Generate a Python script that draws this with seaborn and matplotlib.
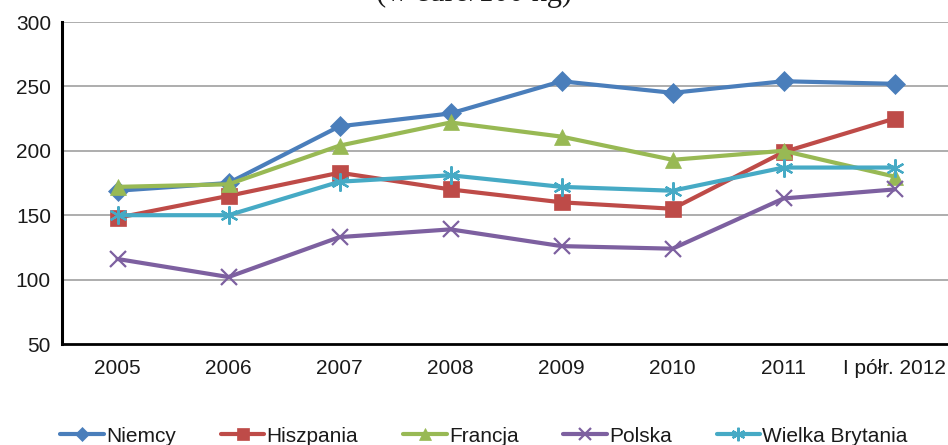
import pandas as pd
import matplotlib
matplotlib.use("Agg")
import matplotlib.pyplot as plt
import seaborn as sns

years = ["2005", "2006", "2007", "2008", "2009", "2010", "2011", "I półr. 2012"]
niemcy = [169, 175, 219, 229, 254, 245, 254, 252]
hiszpania = [148, 165, 183, 170, 160, 155, 199, 225]
francja = [172, 174, 204, 222, 211, 193, 200, 180]
polska = [116, 102, 133, 139, 126, 124, 163, 170]
wielka_brytania = [150, 150, 176, 181, 172, 169, 187, 187]

series = {
    "Niemcy": niemcy,
    "Hiszpania": hiszpania,
    "Francja": francja,
    "Polska": polska,
    "Wielka Brytania": wielka_brytania,
}
colors = ["#4A7EBB", "#BE4B48", "#98B954", "#7D60A0", "#46AAC5"]
markers = ["D", "s", "^", "x", (6, 2, 0)]
sizes = [10, 11, 11, 11, 13]

rows = []
for name, vals in series.items():
    for i, v in enumerate(vals):
        rows.append({"kraj": name, "idx": i, "cena": v})
df = pd.DataFrame(rows)

sns.set_style("white")
plt.rcParams["font.family"] = ["Liberation Sans", "DejaVu Sans"]
plt.rcParams["text.color"] = "#1a1a1a"

fig = plt.figure(figsize=(9.48, 4.45), dpi=100)
ax = fig.add_axes([62 / 948, 101 / 445, 888 / 948, 322 / 445])

for (name, vals), c, m, s in zip(series.items(), colors, markers, sizes):
    sub = df[df["kraj"] == name]
    sns.lineplot(data=sub, x="idx", y="cena", ax=ax, color=c, marker=m,
                 markersize=s, linewidth=3, label=name,
                 markeredgecolor=c, markeredgewidth=1.6 if m in ("x", (6, 2, 0)) else 0.5)

ax.set_xlim(-0.5, 7.5)
ax.set_ylim(50, 300)
ax.set_yticks(range(50, 301, 50))
ax.set_xticks(range(len(years)))
ax.set_xticklabels(years)
ax.set_xticks([i - 0.5 for i in range(len(years) + 1)], minor=True)
ax.tick_params(axis="x", which="major", length=0, pad=11, labelsize=15, labelcolor="#1a1a1a")
ax.tick_params(axis="x", which="minor", length=5, width=1.5, direction="out", color="black")
ax.tick_params(axis="y", length=5, width=1.5, direction="out", color="black", labelsize=15,
               pad=3, labelcolor="#1a1a1a")
ax.set_xlabel("")
ax.set_ylabel("")
for y in range(100, 301, 50):
    ax.axhline(y, color="#A0A0A0", linewidth=1.2, zorder=0)
for sp in ["top", "right"]:
    ax.spines[sp].set_visible(False)
ax.spines["left"].set_color("black")
ax.spines["left"].set_linewidth(2.2)
ax.spines["bottom"].set_color("black")
ax.spines["bottom"].set_linewidth(2)

fig.text(0.5, 1 - 1.5 / 445, "(w euro/100 kg)", ha="center", va="baseline", fontsize=22,
         family=["Liberation Serif", "DejaVu Serif"])

handles, labels = ax.get_legend_handles_labels()
ax.get_legend().remove()
fig.legend(handles, labels, loc="center", bbox_to_anchor=(484 / 948, 1 - 436 / 445), ncol=5,
           frameon=False, fontsize=15, handlelength=2.1, handletextpad=0.1,
           columnspacing=2.15, markerscale=0.75, borderaxespad=0, borderpad=0)

fig.savefig("out.png", dpi=100)
